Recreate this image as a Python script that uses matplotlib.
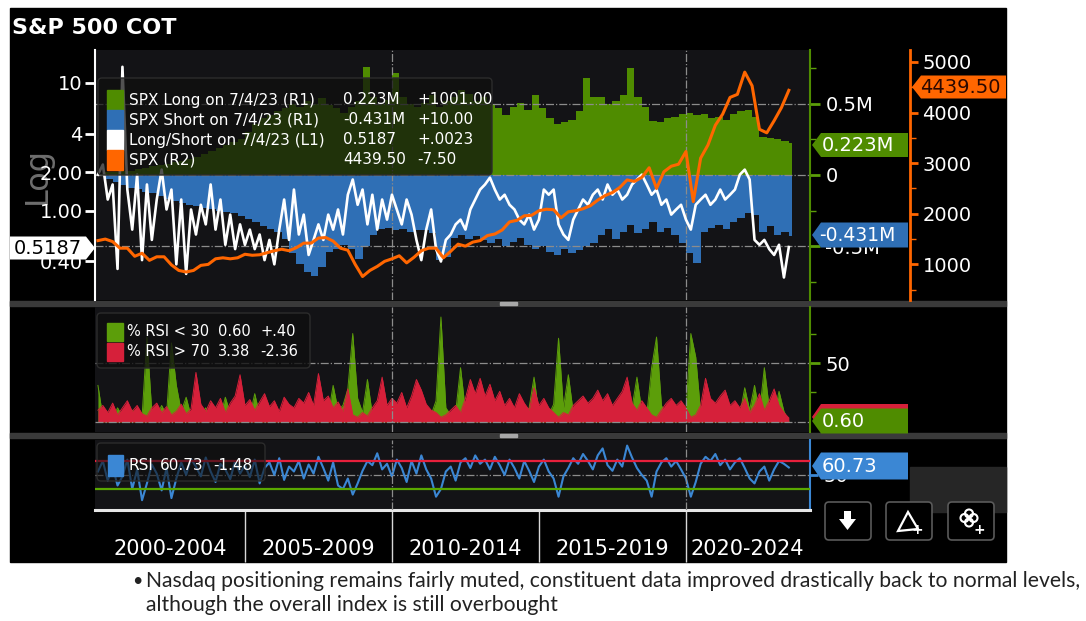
import numpy as np
import matplotlib
matplotlib.use("Agg")
import matplotlib.pyplot as plt
from matplotlib.patches import Rectangle, Polygon, FancyBboxPatch, Circle
from matplotlib.ticker import FixedLocator, FixedFormatter, NullFormatter, NullLocator

# ---- values ----
# quarterly, 2000Q1 .. 2023Q3 (millions of contracts, R1)
spx_long = [0.01, 0.02, 0.02, 0.03, 0.03, 0.04, 0.05, 0.06, 0.07, 0.08, 0.09, 0.10,
            0.11, 0.13, 0.15, 0.17, 0.19, 0.21, 0.23, 0.25, 0.30, 0.36, 0.40, 0.42,
            0.45, 0.47, 0.50, 0.48, 0.52, 0.50, 0.54, 0.49, 0.47, 0.44, 0.48, 0.52,
            0.76, 0.55, 0.50, 0.53, 0.72, 0.55, 0.50, 0.48, 0.51, 0.56, 0.48, 0.52,
            0.55, 0.60, 0.57, 0.52, 0.55, 0.50, 0.47, 0.42, 0.48, 0.51, 0.46, 0.56,
            0.47, 0.40, 0.36, 0.37, 0.39, 0.45, 0.68, 0.55, 0.55, 0.50, 0.52, 0.56,
            0.75, 0.55, 0.48, 0.38, 0.37, 0.40, 0.41, 0.43, 0.44, 0.42, 0.43, 0.40,
            0.41, 0.39, 0.43, 0.45, 0.46, 0.41, 0.27, 0.26, 0.25, 0.24, 0.223]
spx_short = [-0.01, -0.03, -0.05, -0.07, -0.09, -0.10, -0.12, -0.13, -0.15, -0.17, -0.18, -0.20,
             -0.21, -0.22, -0.23, -0.24, -0.25, -0.26, -0.27, -0.29, -0.31, -0.33, -0.36, -0.38,
             -0.40, -0.45, -0.55, -0.63, -0.68, -0.71, -0.65, -0.54, -0.52, -0.49, -0.52, -0.59,
             -0.50, -0.42, -0.38, -0.37, -0.39, -0.38, -0.40, -0.39, -0.39, -0.41, -0.60, -0.58,
             -0.44, -0.42, -0.45, -0.43, -0.46, -0.48, -0.45, -0.50, -0.47, -0.44, -0.49, -0.52,
             -0.50, -0.54, -0.56, -0.52, -0.55, -0.53, -0.50, -0.48, -0.42, -0.38, -0.45, -0.40,
             -0.35, -0.41, -0.38, -0.33, -0.40, -0.37, -0.42, -0.48, -0.55, -0.62, -0.40, -0.37,
             -0.35, -0.38, -0.33, -0.30, -0.27, -0.28, -0.40, -0.36, -0.42, -0.40, -0.431]
# quarterly SPX level (R2)
spx_price = [1470, 1500, 1450, 1320, 1320, 1160, 1220, 1080, 1150, 1150, 990, 880,
             850, 880, 980, 1000, 1110, 1130, 1110, 1130, 1200, 1180, 1190, 1230,
             1270, 1300, 1270, 1330, 1420, 1420, 1520, 1530, 1460, 1320, 1280, 1000,
             760, 880, 960, 1060, 1110, 1170, 1030, 1140, 1270, 1320, 1320, 1130,
             1260, 1400, 1360, 1440, 1470, 1570, 1600, 1680, 1840, 1870, 1960, 1970,
             2060, 2090, 2080, 1920, 2040, 2060, 2100, 2160, 2270, 2360, 2420, 2520,
             2670, 2640, 2720, 2910, 2500, 2830, 2940, 2980, 3230, 2240, 3100, 3360,
             3750, 3970, 4300, 4360, 4800, 4530, 3670, 3600, 3840, 4100, 4440]
# every two months, Jan 2000 .. Jul 2023
long_short_ratio = [1.91, 2.29, 1.22, 1.60, 0.35, 13.3, 1.46, 0.71, 1.91, 0.41,
                    1.60, 0.59, 1.22, 2.09, 1.02, 1.46, 0.38, 1.22, 0.32, 1.02,
                    0.65, 1.11, 0.78, 1.60, 0.71, 1.22, 0.54, 0.93, 0.50, 0.78,
                    0.54, 0.71, 0.50, 0.65, 0.41, 0.59, 0.38, 0.71, 1.22, 0.59,
                    1.46, 0.65, 0.93, 0.45, 0.59, 0.78, 0.59, 0.93, 0.71, 1.02,
                    0.65, 1.33, 1.75, 1.11, 1.46, 0.78, 1.33, 0.71, 1.22, 0.85,
                    1.33, 1.02, 0.78, 1.22, 0.93, 0.59, 0.41, 0.71, 1.02, 0.50,
                    0.40, 0.59, 0.65, 0.78, 0.85, 0.71, 1.02, 1.22, 1.46, 1.60,
                    1.81, 1.46, 1.22, 1.33, 1.11, 1.02, 0.85, 0.78, 0.93, 0.71,
                    0.85, 1.46, 1.33, 1.46, 0.78, 0.65, 0.59, 0.85, 1.02, 1.22,
                    1.11, 1.33, 1.46, 1.22, 1.60, 1.33, 1.46, 1.22, 1.33, 1.60,
                    1.75, 1.91, 1.60, 1.33, 1.46, 1.11, 1.22, 0.93, 1.02, 1.11,
                    0.85, 0.71, 1.11, 1.22, 1.33, 1.11, 1.22, 1.46, 1.22, 1.33,
                    1.46, 1.91, 2.09, 1.75, 0.59, 0.54, 0.59, 0.50, 0.45, 0.54, 0.30, 0.5187]
pct_rsi_below_30 = [31, 4, 8, 3, 12, 5, 3, 10, 6, 4,
                    72, 8, 5, 14, 6, 67, 31, 9, 21, 5,
                    3, 6, 12, 4, 8, 5, 21, 7, 4, 3,
                    9, 5, 24, 6, 3, 4, 8, 3, 5, 2,
                    4, 6, 3, 9, 5, 34, 12, 6, 31, 10,
                    14, 28, 75, 20, 8, 36, 6, 4, 3, 5,
                    8, 4, 6, 3, 10, 5, 7, 4, 6, 18,
                    89, 12, 6, 8, 46, 9, 3, 5, 4, 2,
                    3, 6, 4, 10, 5, 3, 8, 6, 12, 38,
                    7, 4, 6, 15, 71, 12, 40, 8, 5, 3,
                    4, 6, 3, 5, 8, 4, 3, 6, 5, 12,
                    38, 9, 6, 46, 72, 14, 6, 4, 8, 5,
                    10, 75, 55, 8, 4, 3, 6, 4, 5, 12,
                    8, 6, 29, 10, 31, 7, 46, 12, 6, 26, 9, 0.60]
pct_rsi_above_70 = [10, 14, 8, 16, 6, 12, 18, 9, 14, 7,
                    5, 12, 16, 8, 13, 6, 9, 15, 7, 11,
                    42, 15, 9, 18, 12, 20, 8, 16, 22, 40,
                    14, 19, 10, 17, 24, 13, 18, 9, 21, 15,
                    12, 20, 16, 25, 14, 41, 18, 22, 12, 17,
                    9, 28, 6, 4, 8, 5, 12, 18, 38, 14,
                    20, 16, 25, 12, 22, 36, 27, 15, 10, 8,
                    4, 6, 10, 14, 8, 20, 36, 24, 37, 22,
                    32, 18, 26, 14, 20, 12, 24, 16, 10, 29,
                    14, 20, 12, 8, 4, 8, 6, 14, 18, 22,
                    16, 20, 27, 18, 24, 14, 20, 26, 38, 16,
                    10, 18, 12, 6, 4, 10, 16, 20, 14, 18,
                    12, 4, 6, 14, 37, 20, 16, 22, 27, 14,
                    18, 12, 20, 8, 14, 24, 10, 18, 28, 14, 8, 3.38]
rsi = [55, 70, 42, 62, 35, 48, 72, 30, 58, 14,
       38, 65, 52, 28, 60, 17, 45, 68, 50, 73,
       62, 48, 75, 55, 40, 66, 58, 44, 70, 52,
       64, 47, 72, 38, 60, 68, 50, 74, 43, 62,
       55, 70, 45, 65, 52, 76, 60, 42, 68, 35,
       30, 45, 22, 38, 56, 70, 64, 81, 58, 66,
       48, 72, 60, 40, 70, 52, 78, 58, 45, 19,
       30, 55, 62, 42, 68, 74, 60, 78, 66, 72,
       58, 76, 64, 50, 72, 60, 45, 70, 56, 40,
       62, 72, 55, 45, 19, 48, 60, 74, 66, 80,
       70, 58, 78, 88, 64, 56, 72, 62, 92, 75,
       60, 50, 42, 19, 55, 68, 74, 62, 70, 58,
       45, 19, 40, 66, 76, 70, 80, 64, 72, 58,
       68, 74, 60, 45, 38, 55, 62, 42, 58, 70, 66, 60.73]

period_labels = ["2000-2004", "2005-2009", "2010-2014", "2015-2019", "2020-2024"]
period_mids = [2002.45, 2007.5, 2012.5, 2017.5, 2022.1]

t_q = 2000 + np.arange(len(spx_long)) / 4
edges = np.append(t_q, 2023.6)
t_price = 2000 + np.arange(len(spx_price)) / 4
t_ratio = 2000 + np.arange(len(long_short_ratio)) / 6
t_low = 2000 + np.arange(len(pct_rsi_below_30)) / 6
t_high = 2000 + np.arange(len(pct_rsi_above_70)) / 6
t_rsi = 2000 + np.arange(len(rsi)) / 6

# colours
PANEL = "#131316"
GREEN = "#4f8c00"
BLUE = "#2f6fb5"
ORANGE = "#ff6600"
RED = "#d6203a"
LGREEN = "#5c9e0a"
LBLUE = "#3b87d4"
GRID = "#8c8c8c"
XMIN, XMAX = 1999.9, 2024.22

W, H = 1086, 621
fig = plt.figure(figsize=(W / 100, H / 100), dpi=100)


def rect(x0, y0, x1, y1):
    return [x0 / W, 1 - y1 / H, (x1 - x0) / W, (y1 - y0) / H]


def pixel_axes(z):
    a = fig.add_axes([0, 0, 1, 1], zorder=z)
    a.set_xlim(0, W)
    a.set_ylim(H, 0)
    a.axis("off")
    return a


def strip(ax):
    for s in ax.spines.values():
        s.set_visible(False)
    ax.set_xlim(XMIN, XMAX)
    ax.tick_params(axis="x", which="both", bottom=False, labelbottom=False)


def grid_x(ax):
    for yr in (2010, 2020):
        ax.axvline(yr, color=GRID, lw=0.9, ls="-.", zorder=3)


# background: black screenshot area, separators, caption
bg = pixel_axes(-10)
bg.add_patch(Rectangle((10, 8), 996, 554, color="black"))
bg.add_patch(Rectangle((10, 301), 996, 5, color="#3a3a3a"))
bg.add_patch(Rectangle((10, 433), 996, 5, color="#3a3a3a"))
bg.add_patch(Rectangle((500, 302), 17, 3, color="#a8a8a8"))
bg.add_patch(Rectangle((500, 434), 17, 3, color="#a8a8a8"))
bg.add_patch(Rectangle((910, 467), 96, 45, color="#262626"))
bg.text(12, 28, "S&P 500 COT", color="white", fontsize=16, fontweight="bold", va="center")
bg.text(37, 175, "Log", color="#6e6e6e", fontsize=23, rotation=90, ha="center", va="center")
bg.text(132, 581, "\u2022", color="#222222", fontsize=13, fontfamily="Lato", va="center")
bg.text(146, 581, "Nasdaq positioning remains fairly muted, constituent data improved drastically back to normal levels,",
        color="#222222", fontsize=15.2, fontfamily="Lato", va="center")
bg.text(146, 605, "although the overall index is still overbought",
        color="#222222", fontsize=15.2, fontfamily="Lato", va="center")

# ---- top panel ----
TOP = rect(95, 50, 810, 300)
ax1 = fig.add_axes(TOP)
ax1.set_facecolor(PANEL)
strip(ax1)
ax1.stairs(spx_long, edges, baseline=0, fill=True, color=GREEN, zorder=1)
ax1.stairs(spx_short, edges, baseline=0, fill=True, color=BLUE, zorder=1)
ax1.set_ylim(-0.88, 0.88)
for v in (-0.5, 0, 0.5):
    ax1.axhline(v, color=GRID, lw=0.9, ls="-.", zorder=3)
grid_x(ax1)
ax1.yaxis.tick_right()
ax1.spines["right"].set_visible(True)
ax1.spines["right"].set_color("#4f8c00")
ax1.spines["right"].set_linewidth(1.5)
ax1.set_yticks([-0.5, 0, 0.5], ["-0.5M", "0", "0.5M"])
ax1.set_yticks([-0.75, -0.25, 0.25, 0.75], minor=True)
ax1.tick_params(axis="y", which="major", color="#5c9e0a", labelcolor="white", labelsize=14,
                length=7, width=2, pad=4)
ax1.tick_params(axis="y", which="minor", color="#5c9e0a", length=4, width=1)
ax1.yaxis.set_minor_formatter(NullFormatter())

ax2 = fig.add_axes(TOP, facecolor="none")
strip(ax2)
ax2.set_yscale("log")
ax2.plot(t_ratio, long_short_ratio, color="white", lw=1.9, zorder=4)
ax2.set_ylim(0.2, 18)
ax2.spines["left"].set_visible(True)
ax2.spines["left"].set_color("white")
ax2.spines["left"].set_linewidth(1.5)
ax2.yaxis.set_major_locator(FixedLocator([0.4, 1, 2, 4, 10]))
ax2.yaxis.set_major_formatter(FixedFormatter(["0.40", "1.00", "2.00", "4", "10"]))
ax2.yaxis.set_minor_locator(NullLocator())
ax2.tick_params(axis="y", color="white", labelcolor="white", labelsize=14, length=7, width=2, pad=2)

ax3 = fig.add_axes(TOP, facecolor="none")
strip(ax3)
ax3.plot(t_price, spx_price, color=ORANGE, lw=2.2, zorder=5)
ax3.set_ylim(296, 5237)
ax3.yaxis.tick_right()
ax3.spines["right"].set_visible(True)
ax3.spines["right"].set_position(("axes", (910 - 95) / (810 - 95)))
ax3.spines["right"].set_color(ORANGE)
ax3.spines["right"].set_linewidth(2)
ax3.set_yticks([1000, 2000, 3000, 4000, 5000])
ax3.set_yticks([500, 1500, 2500, 3500, 4500], minor=True)
ax3.yaxis.set_minor_formatter(NullFormatter())
ax3.tick_params(axis="y", which="major", color=ORANGE, labelcolor="white", labelsize=14,
                length=6, width=2, pad=3)
ax3.tick_params(axis="y", which="minor", color=ORANGE, length=4, width=1)

# ---- middle panel: % of constituents oversold / overbought ----
ax4 = fig.add_axes(rect(95, 307, 810, 432))
ax4.set_facecolor(PANEL)
strip(ax4)
ax4.fill_between(t_low, 0, pct_rsi_below_30, color=LGREEN, lw=0, zorder=2)
ax4.plot(t_low, pct_rsi_below_30, color=LGREEN, lw=0.7, zorder=2)
ax4.fill_between(t_high, 0, pct_rsi_above_70, color=RED, lw=0, zorder=3)
ax4.plot(t_high, pct_rsi_above_70, color=RED, lw=0.7, zorder=3)
ax4.set_ylim(-8.5, 97.5)
for v in (0, 50):
    ax4.axhline(v, color=GRID, lw=0.9, ls="-.", zorder=4)
grid_x(ax4)
ax4.yaxis.tick_right()
ax4.spines["right"].set_visible(True)
ax4.spines["right"].set_color("#4f8c00")
ax4.spines["right"].set_linewidth(1.5)
ax4.set_yticks([50])
ax4.set_yticks([25, 75], minor=True)
ax4.yaxis.set_minor_formatter(NullFormatter())
ax4.tick_params(axis="y", which="major", color="#5c9e0a", labelcolor="white", labelsize=14,
                length=7, width=2, pad=4)
ax4.tick_params(axis="y", which="minor", color="#5c9e0a", length=4, width=1)

# ---- bottom panel: RSI ----
ax5 = fig.add_axes(rect(95, 440, 810, 510))
ax5.set_facecolor(PANEL)
for s in ax5.spines.values():
    s.set_visible(False)
ax5.set_xlim(XMIN, XMAX)
ax5.plot(t_rsi, rsi, color=LBLUE, lw=1.5, zorder=3)
ax5.set_ylim(0, 100)
ax5.axhline(70, color="#e8203c", lw=1.6, zorder=4)
ax5.axhline(30, color="#5aa800", lw=1.6, zorder=4)
ax5.axhline(50, color=GRID, lw=0.9, ls="-.", zorder=2)
grid_x(ax5)
ax5.yaxis.tick_right()
ax5.spines["right"].set_visible(True)
ax5.spines["right"].set_color(LBLUE)
ax5.spines["right"].set_linewidth(1.5)
ax5.set_yticks([50])
ax5.tick_params(axis="y", color=LBLUE, labelcolor="white", labelsize=14, length=6, width=2, pad=4)
ax5.spines["bottom"].set_visible(True)
ax5.spines["bottom"].set_color("#e6e6e6")
ax5.spines["bottom"].set_linewidth(2.2)
ax5.xaxis.set_major_locator(FixedLocator([2005, 2010, 2015, 2020]))
ax5.xaxis.set_major_formatter(NullFormatter())
ax5.xaxis.set_minor_locator(FixedLocator(period_mids))
ax5.xaxis.set_minor_formatter(FixedFormatter(period_labels))
ax5.tick_params(axis="x", which="major", direction="out", length=37.5, width=1, color="#d8d8d8")
ax5.tick_params(axis="x", which="minor", length=0, pad=21, labelsize=15, labelcolor="white")

# ---- overlay: legends, value tags, buttons ----
ov = pixel_axes(10)


def tag(x0, x1, yc, h, fc, txt, tc, point="left", tx=None, fs=14):
    n = 9
    if point == "left":
        pts = [(x0, yc), (x0 + n, yc - h / 2), (x1, yc - h / 2), (x1, yc + h / 2), (x0 + n, yc + h / 2)]
    else:
        pts = [(x1, yc), (x1 - n, yc - h / 2), (x0, yc - h / 2), (x0, yc + h / 2), (x1 - n, yc + h / 2)]
    ov.add_patch(Polygon(pts, closed=True, fc=fc, ec="none"))
    if txt:
        ov.text(tx if tx is not None else x0 + 10, yc + 0.5, txt, color=tc, fontsize=fs,
                va="center", ha="left")


tag(10, 95, 248, 23, "white", "0.5187", "black", point="right", tx=14)
tag(812, 908, 145, 24, GREEN, "0.223M", "white")
tag(812, 908, 235, 25, BLUE, "-0.431M", "white", tx=819, fs=13.5)
tag(912, 1006, 87, 23, ORANGE, "4439.50", "#2a0800", tx=920)
tag(812, 908, 417, 26, RED, "", "white")
tag(812, 908, 421, 25, GREEN, "0.60", "white")
tag(812, 908, 466, 27, LBLUE, "60.73", "white")

# top legend
ov.add_patch(FancyBboxPatch((98, 78), 394, 97, boxstyle="round,pad=0,rounding_size=4",
                            fc=(0.06, 0.06, 0.06, 0.72), ec="#2c2c2c", lw=1))
legend_rows = [
    (GREEN, "SPX Long on 7/4/23 (R1)", "0.223M", "+1001.00"),
    (BLUE, "SPX Short on 7/4/23 (R1)", "-0.431M", "+10.00"),
    ("white", "Long/Short on 7/4/23 (L1)", "0.5187", "+.0023"),
    (ORANGE, "SPX (R2)", "4439.50", "-7.50"),
]
for k, (c, name, val, chg) in enumerate(legend_rows):
    yc = 100 + 20 * k
    ov.add_patch(Rectangle((107, yc - 10), 16, 20, color=c))
    ov.text(129, yc, name, color="white", fontsize=11, va="center")
    ov.text(343, yc, val, color="white", fontsize=11, va="center")
    ov.text(417, yc, chg, color="white", fontsize=11, va="center")

# middle legend
ov.add_patch(FancyBboxPatch((97, 313), 213, 55, boxstyle="round,pad=0,rounding_size=4",
                            fc=(0.06, 0.06, 0.06, 0.8), ec="#2c2c2c", lw=1))
mid_rows = [(LGREEN, "% RSI < 30", "0.60", "+.40"), (RED, "% RSI > 70", "3.38", "-2.36")]
for k, (c, name, val, chg) in enumerate(mid_rows):
    yc = 332 + 20 * k
    ov.add_patch(Rectangle((107, yc - 9), 16, 18, color=c))
    ov.text(127, yc, name, color="white", fontsize=10.5, va="center")
    ov.text(218, yc, val, color="white", fontsize=10.5, va="center")
    ov.text(260, yc, chg, color="white", fontsize=10.5, va="center")

# bottom legend
ov.add_patch(FancyBboxPatch((97, 443), 168, 38, boxstyle="round,pad=0,rounding_size=4",
                            fc=(0.06, 0.06, 0.06, 0.6), ec="#2c2c2c", lw=1))
ov.add_patch(Rectangle((108, 455), 15, 21, color=LBLUE))
ov.text(129, 466, "RSI", color="white", fontsize=11, va="center")
ov.text(160, 466, "60.73", color="white", fontsize=11, va="center")
ov.text(213, 466, "-1.48", color="white", fontsize=11, va="center")

# buttons
for bx in (825, 886, 948):
    ov.add_patch(FancyBboxPatch((bx, 502), 46, 38, boxstyle="round,pad=0,rounding_size=4",
                                fc="black", ec="#5a5a5a", lw=1.2))
ov.add_patch(Polygon([(844, 511), (851, 511), (851, 519), (856, 519), (847.5, 530),
                      (839, 519), (844, 519)], closed=True, fc="white", ec="none"))
ov.add_patch(Polygon([(898, 531), (908, 512), (918, 529)], closed=True, fill=False,
                     ec="white", lw=1.6))
ov.text(917, 530, "+", color="white", fontsize=10, ha="center", va="center", fontweight="bold")
for dx, dy in ((0, -4.5), (4.5, 0), (0, 4.5), (-4.5, 0)):
    ov.add_patch(Circle((969 + dx, 518 + dy), 4, fill=False, ec="white", lw=1.5))
ov.text(979, 530, "+", color="white", fontsize=10, ha="center", va="center", fontweight="bold")

fig.savefig("out.png", dpi=100)
